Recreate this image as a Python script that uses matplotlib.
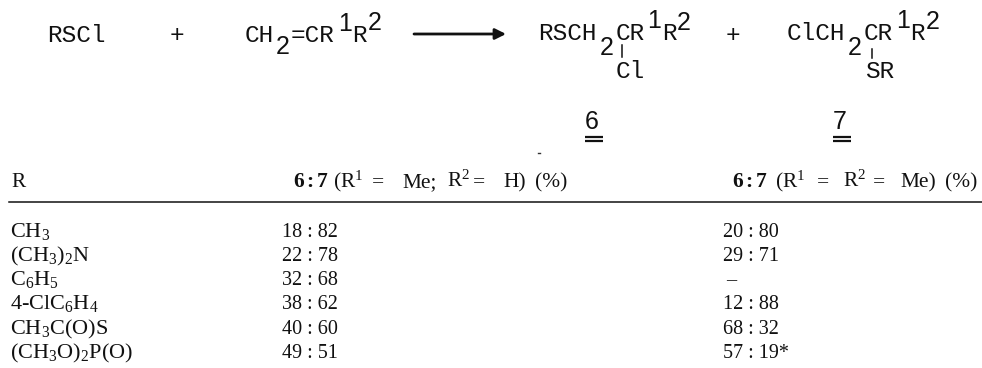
import matplotlib
matplotlib.use("Agg")
import matplotlib.pyplot as plt

plt.rcParams['mathtext.fontset'] = 'custom'
plt.rcParams['mathtext.rm'] = 'Liberation Serif'
plt.rcParams['mathtext.it'] = 'Liberation Serif:italic'
plt.rcParams['mathtext.bf'] = 'Liberation Serif:bold'

r_groups = [r'$\mathrm{CH_3}$', r'$\mathrm{(CH_3)_2N}$', r'$\mathrm{C_6H_5}$',
            r'$\mathrm{4\text{-}ClC_6H_4}$', r'$\mathrm{CH_3C(O)S}$', r'$\mathrm{(CH_3O)_2P(O)}$']
ratio_me_h = ['18 : 82', '22 : 78', '32 : 68', '38 : 62', '40 : 60', '49 : 51']
ratio_me_me = ['20 : 80', '29 : 71', '\u2013', '12 : 88', '68 : 32', '57 : 19*']
header_r = 'R'
header_left = [r'$\mathbf{6:7}$', r'(R$^1$', '=', 'Me;', r'R$^2$', '=', 'H)', '(%)']
header_right = [r'$\mathbf{6:7}$', r'(R$^1$', '=', r'R$^2$', '=', 'Me)', '(%)']

W, H = 982, 368
fig = plt.figure(figsize=(W / 100, H / 100), dpi=100)
ax = fig.add_axes([0, 0, 1, 1])
ax.set_xlim(0, W)
ax.set_ylim(H, 0)
ax.axis('off')

INK = '#111111'
MONO = dict(family='Liberation Mono', fontsize=17.6, color=INK, va='center', ha='left')
DIGIT = dict(family='Liberation Sans', fontsize=18, color=INK, va='center', ha='left')
SERIF = dict(family='Liberation Serif', fontsize=14.5, color=INK, va='baseline', ha='left')
LABEL = dict(SERIF, fontsize=16)
HEAD = dict(SERIF, fontsize=15.4)

def mono(x, y, s):
    ax.text(x, y, s, **MONO)

def digit(x, y, s):
    ax.text(x, y, s, **DIGIT)

# Reaction scheme
mono(47, 35, 'RSCl')
mono(170, 36, '+')
mono(245, 35, 'CH')
digit(276, 47, '2')
mono(291, 35, '=CR')
digit(338, 24, '1')
mono(352.5, 35, 'R')
digit(367.5, 23, '2')
ax.annotate('', xy=(506, 34), xytext=(414, 34),
            arrowprops=dict(arrowstyle='-|>', lw=2, color=INK, mutation_scale=16, shrinkA=0, shrinkB=0))
mono(538, 34, 'RSCH')
digit(600, 48, '2')
mono(616, 34, 'CR')
digit(647.5, 21, '1')
mono(662, 34, 'R')
digit(677, 23, '2')
mono(616, 72, 'Cl')
ax.plot([622, 622], [45, 57], color=INK, lw=1.1)
mono(726, 35, '+')
mono(787, 34, 'ClCH')
digit(848, 48, '2')
mono(864, 34, 'CR')
digit(896, 21, '1')
mono(910.5, 34, 'R')
digit(926, 22, '2')
mono(865, 71, 'SR')
ax.plot([872, 872], [49, 58], color=INK, lw=1.1)

# Compound labels, double underlined
digit(585, 122, '6')
digit(833, 122, '7')
for x0 in (585, 833):
    for y in (137, 141):
        ax.plot([x0, x0 + 18], [y, y], color=INK, lw=1.6, solid_capstyle='butt')
ax.plot([538.5, 540], [153, 153], color='#333333', lw=1)

# Table
ax.text(11, 187, header_r, **HEAD)
for x, s in zip([293, 333, 372, 402, 447, 473, 503, 535], header_left):
    ax.text(x, 187, s, **HEAD)
for x, s in zip([732, 775, 817, 843, 873, 900, 945], header_right):
    ax.text(x, 187, s, **HEAD)
ax.plot([9, 982], [202, 202], color=INK, lw=1.1)

row_y = [237, 261, 285, 309, 334, 358]
for y, r, a, b in zip(row_y, r_groups, ratio_me_h, ratio_me_me):
    ax.text(10, y, r, **LABEL)
    ax.text(282, y, a, **SERIF)
    ax.text(723 if b != '\u2013' else 726, y, b, **SERIF)

fig.savefig('out.png', dpi=100, facecolor='white')
